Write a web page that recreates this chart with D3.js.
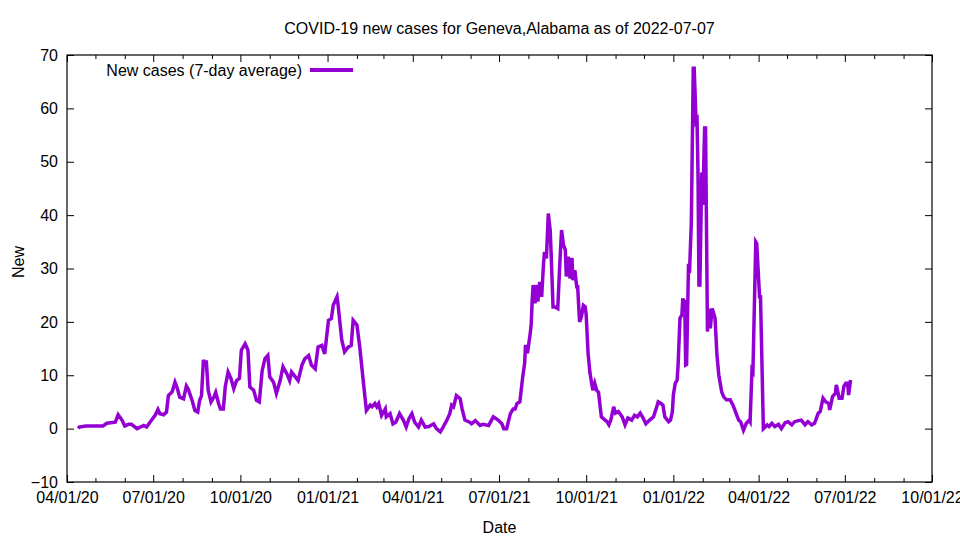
<!DOCTYPE html>
<html>
<head>
<meta charset="utf-8">
<script src="https://cdn.jsdelivr.net/npm/d3@7"></script>
<style>
  html, body { margin: 0; padding: 0; background: #fff; }
  svg { display: block; }
  text { font-family: "Liberation Sans", Arial, sans-serif; font-size: 16px; fill: #000; }
</style>
</head>
<body>
<svg id="chart" width="960" height="540"></svg>
<script>
// ---- Data ----
const titleText = "COVID-19 new cases for Geneva,Alabama as of 2022-07-07";
const seriesName = "New cases (7-day average)";
const xLabel = "Date";
const yLabel = "New";
const baseDate = "2020-04-01";           // day offsets below are counted from this date
const dayOffsets = [
  12,13,20,28,38,42,51,54,58,61,65,68,74,81,84,88,93,96,98,102,105,107,111,114,116,119,123,126,128,132,
  135,138,140,142,144,146,147,149,152,155,157,160,162,165,167,170,173,176,179,182,184,188,191,193,197,200,
  203,206,209,212,214,218,221,225,228,232,235,237,241,244,248,251,255,258,262,265,269,272,276,279,281,285,
  286,290,293,297,300,302,306,309,313,316,320,322,325,327,329,332,336,337,341,344,347,351,355,358,361,364,
  367,371,374,378,382,387,390,394,397,401,404,406,408,411,415,417,420,425,427,431,436,439,445,450,455,459,
  461,464,468,471,473,475,478,481,483,484,486,489,490,491,492,494,496,497,499,501,503,504,506,508,510,511,
  513,515,518,520,522,524,526,527,529,531,533,534,536,538,539,541,543,545,547,548,550,552,555,557,559,561,
  564,568,570,572,574,577,579,582,586,589,592,596,599,602,605,608,611,615,619,622,624,627,629,631,635,637,
  639,640,642,644,645,647,649,650,651,652,653,654,656,657,659,661,662,664,665,666,667,668,670,671,673,674,
  676,678,679,681,684,686,688,691,693,696,700,702,703,707,709,711,714,717,720,721,723,724,727,728,731,732,
  735,739,741,744,747,751,754,758,761,765,768,772,775,779,782,786,789,793,795,798,801,804,805,808,811,812,
  815,818,820,822,824,825,827
];
const newCases = [
  0.0,0.3,0.5,0.5,0.5,1.0,1.2,2.6,1.6,0.5,0.8,0.8,0.0,0.6,0.3,1.3,2.5,3.6,2.8,2.6,3.1,6.2,6.9,8.7,7.8,5.9,5.6,8.0,7.4,5.3,
  3.4,3.1,5.3,6.2,12.9,11.6,12.8,7.2,5.0,5.9,6.8,4.7,3.7,3.7,7.8,10.6,9.4,7.5,9.0,9.4,14.7,15.9,14.7,7.8,7.2,5.3,
  5.0,10.9,13.1,13.7,9.7,8.7,6.6,9.0,11.6,10.3,9.0,10.6,9.7,9.0,11.9,13.1,13.7,11.9,11.2,15.3,15.6,14.0,20.3,20.6,23.1,24.7,
  23.4,16.6,14.4,15.3,15.6,20.3,19.4,15.3,8.4,3.4,4.4,4.1,4.7,4.1,4.7,2.5,3.7,2.2,2.8,0.9,1.2,2.8,1.6,0.3,1.9,2.8,1.2,
  0.3,1.6,0.3,0.4,0.9,0.0,-0.6,0.3,1.6,2.8,4.4,4.1,6.2,5.6,3.7,1.6,1.2,0.9,1.5,0.6,0.8,0.6,2.2,1.6,0.9,0.0,
  0.0,2.8,3.7,3.7,4.7,5.0,9.7,12.2,15.7,14.1,17.9,19.7,24.1,26.9,23.5,26.9,23.8,27.5,24.7,31.0,33.1,31.9,40.3,37.2,32.8,22.8,
  22.8,22.5,30.3,37.2,34.4,33.5,28.5,32.2,28.1,32.0,27.8,29.7,26.6,26.6,20.0,21.0,23.1,22.8,21.3,14.1,10.4,7.2,8.5,7.2,6.8,2.2,
  1.6,1.3,0.7,1.6,4.1,2.9,3.2,2.2,0.7,2.0,1.6,2.5,2.2,2.9,2.0,0.9,1.6,2.2,3.8,5.0,4.7,4.4,2.2,1.3,1.6,3.2,
  6.3,8.5,9.1,11.9,20.7,21.3,24.4,23.8,23.8,11.9,12.0,30.9,29.1,38.8,67.5,67.5,57.5,57.8,48.1,26.9,26.9,48.0,41.9,56.3,56.3,18.2,
  22.5,18.8,22.5,20.7,13.8,10.0,6.9,6.0,5.4,5.4,4.7,4.4,2.5,1.6,1.3,-0.3,1.0,1.6,1.3,11.0,10.7,35.0,34.7,24.7,24.7,0.0,
  0.7,0.4,1.0,0.4,0.8,0.0,1.1,1.3,0.7,1.3,1.5,1.6,0.7,1.3,0.7,1.0,2.9,3.2,5.7,5.0,4.7,3.5,6.0,6.6,8.2,5.7,
  5.7,7.9,8.5,8.5,6.3,9.1,9.1
];
const xDomain = ["2020-04-01", "2022-10-01"];
const yDomain = [-10, 70];
const yTicks = [-10, 0, 10, 20, 30, 40, 50, 60, 70];

// ---- Layout ----
const margin = { left: 67, right: 28, top: 55, bottom: 58 };
const W = 960, H = 540;
const lineColor = "#9400D3";

const svg = d3.select("#chart");
const parse = d3.utcParse("%Y-%m-%d");
const start = parse(baseDate);
const data = dayOffsets.map((d, i) => ({ date: d3.utcDay.offset(start, d), value: newCases[i] }));

const x = d3.scaleUtc()
  .domain(xDomain.map(parse))
  .range([margin.left, W - margin.right]);
const y = d3.scaleLinear()
  .domain(yDomain)
  .range([H - margin.bottom, margin.top]);

const x0 = x.range()[0], x1 = x.range()[1];
const y0 = y.range()[0], y1 = y.range()[1];

const majorTicks = d3.utcMonth.every(3).range(x.domain()[0], d3.utcDay.offset(x.domain()[1], 1));
const minorTicks = d3.utcMonth.every(1).range(x.domain()[0], d3.utcDay.offset(x.domain()[1], 1))
  .filter(d => d.getUTCMonth() % 3 !== 0);
const fmt = d3.utcFormat("%m/%d/%y");

// bottom axis (ticks inward)
const gx = svg.append("g").attr("transform", `translate(0,${y0})`)
  .call(d3.axisBottom(x).tickValues(majorTicks).tickFormat(fmt).tickSizeInner(-7).tickSizeOuter(0).tickPadding(14));
gx.select(".domain").remove();
gx.selectAll("text").style("font-size", "16px").style("font-family", "Liberation Sans, Arial, sans-serif")
  .attr("dy", "0.71em").attr("y", 10);
gx.selectAll("line").attr("stroke", "#000");

const gxm = svg.append("g").attr("transform", `translate(0,${y0})`)
  .call(d3.axisBottom(x).tickValues(minorTicks).tickFormat("").tickSizeInner(-4).tickSizeOuter(0));
gxm.select(".domain").remove();

// top axis mirror
const gt = svg.append("g").attr("transform", `translate(0,${y1})`)
  .call(d3.axisTop(x).tickValues(majorTicks).tickFormat("").tickSizeInner(-7).tickSizeOuter(0));
gt.select(".domain").remove();
const gtm = svg.append("g").attr("transform", `translate(0,${y1})`)
  .call(d3.axisTop(x).tickValues(minorTicks).tickFormat("").tickSizeInner(-4).tickSizeOuter(0));
gtm.select(".domain").remove();

// left axis
const gy = svg.append("g").attr("transform", `translate(${x0},0)`)
  .call(d3.axisLeft(y).tickValues(yTicks).tickFormat(d3.format("d")).tickSizeInner(-7).tickSizeOuter(0).tickPadding(16));
gy.select(".domain").remove();
gy.selectAll("text").style("font-size", "16px").style("font-family", "Liberation Sans, Arial, sans-serif");
gy.selectAll("text").attr("x", -9);

// right axis mirror
const gr = svg.append("g").attr("transform", `translate(${x1},0)`)
  .call(d3.axisRight(y).tickValues(yTicks).tickFormat("").tickSizeInner(-7).tickSizeOuter(0));
gr.select(".domain").remove();

// frame
svg.append("rect")
  .attr("x", x0).attr("y", y1)
  .attr("width", x1 - x0).attr("height", y0 - y1)
  .attr("fill", "none").attr("stroke", "#000").attr("stroke-width", 1.2);

// clip
svg.append("clipPath").attr("id", "clip").append("rect")
  .attr("x", x0).attr("y", y1).attr("width", x1 - x0).attr("height", y0 - y1);

// line
const line = d3.line().x(d => x(d.date)).y(d => y(d.value));
svg.append("path")
  .datum(data)
  .attr("clip-path", "url(#clip)")
  .attr("fill", "none")
  .attr("stroke", lineColor)
  .attr("stroke-width", 3.5)
  .attr("stroke-linejoin", "miter")
  .attr("d", line);

// legend
svg.append("text")
  .attr("x", 302).attr("y", 76)
  .attr("text-anchor", "end")
  .text(seriesName);
svg.append("line")
  .attr("x1", 310).attr("x2", 353).attr("y1", 70).attr("y2", 70)
  .attr("stroke", lineColor).attr("stroke-width", 4);

// title
svg.append("text")
  .attr("x", (x0 + x1) / 2).attr("y", 34)
  .attr("text-anchor", "middle")
  .text(titleText);

// axis labels
svg.append("text")
  .attr("x", (x0 + x1) / 2).attr("y", 533)
  .attr("text-anchor", "middle")
  .text(xLabel);
svg.append("text")
  .attr("transform", "translate(24,262) rotate(-90)")
  .attr("text-anchor", "middle")
  .text(yLabel);
</script>
</body>
</html>
